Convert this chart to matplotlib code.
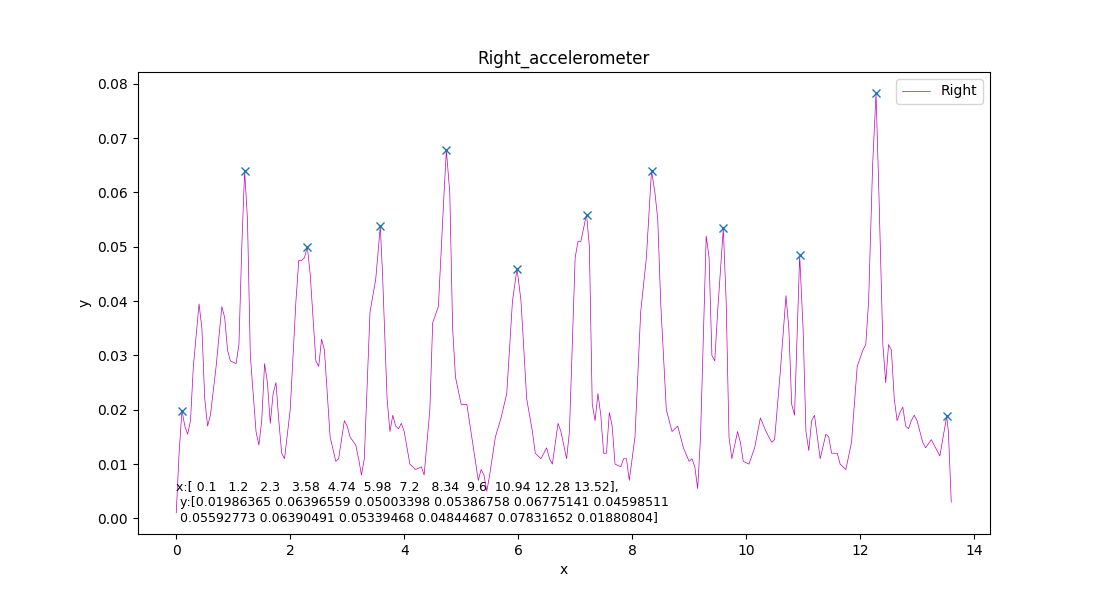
import matplotlib
matplotlib.use("Agg")
import matplotlib.pyplot as plt
import numpy as np

curve_x = [0.0,0.05,0.1,0.15,0.2,0.25,0.3,0.4,0.45,0.5,0.55,0.6,0.7,0.8,0.85,0.9,0.95,1.05,1.1,1.15,1.2,1.25,1.3,1.4,1.45,1.5,1.55,1.6,1.65,1.7,1.75,1.8,1.85,1.9,2.0,2.1,2.15,2.2,2.25,2.3,2.35,2.45,2.5,2.55,2.6,2.7,2.8,2.85,2.95,3.0,3.05,3.15,3.2,3.25,3.3,3.4,3.5,3.55,3.58,3.62,3.7,3.75,3.8,3.85,3.9,3.95,4.0,4.1,4.2,4.3,4.35,4.45,4.5,4.6,4.7,4.74,4.8,4.85,4.9,5.0,5.1,5.2,5.3,5.35,5.4,5.45,5.5,5.6,5.7,5.8,5.9,5.98,6.05,6.15,6.25,6.3,6.4,6.5,6.55,6.6,6.7,6.75,6.85,6.9,7.0,7.05,7.1,7.2,7.25,7.3,7.35,7.4,7.45,7.5,7.55,7.6,7.65,7.7,7.8,7.85,7.9,7.95,8.05,8.15,8.25,8.34,8.4,8.45,8.5,8.6,8.7,8.8,8.9,9.0,9.05,9.1,9.15,9.2,9.3,9.35,9.4,9.45,9.5,9.6,9.65,9.7,9.75,9.85,9.9,9.95,10.05,10.15,10.25,10.35,10.45,10.5,10.6,10.7,10.75,10.8,10.85,10.94,11.0,11.05,11.1,11.15,11.2,11.25,11.3,11.4,11.45,11.5,11.6,11.65,11.75,11.85,11.95,12.05,12.1,12.15,12.22,12.28,12.33,12.4,12.45,12.5,12.55,12.6,12.65,12.7,12.75,12.8,12.85,12.9,12.95,13.0,13.05,13.1,13.15,13.25,13.3,13.4,13.45,13.52,13.55,13.6]
curve_y = [0.001,0.012,0.0199,0.017,0.0155,0.018,0.028,0.0395,0.035,0.022,0.017,0.019,0.028,0.039,0.037,0.031,0.029,0.0285,0.032,0.05,0.064,0.055,0.03,0.016,0.0135,0.018,0.0285,0.025,0.0175,0.023,0.025,0.018,0.012,0.011,0.02,0.04,0.0475,0.0475,0.048,0.050,0.045,0.029,0.028,0.033,0.031,0.015,0.0105,0.011,0.018,0.017,0.015,0.0135,0.011,0.008,0.011,0.038,0.044,0.05,0.0539,0.045,0.022,0.016,0.019,0.017,0.0165,0.0175,0.016,0.01,0.009,0.0095,0.008,0.02,0.036,0.039,0.06,0.0678,0.06,0.035,0.026,0.021,0.021,0.014,0.007,0.009,0.008,0.005,0.008,0.015,0.0185,0.023,0.04,0.046,0.04,0.022,0.016,0.012,0.011,0.013,0.011,0.01,0.0175,0.016,0.011,0.016,0.048,0.051,0.051,0.056,0.05,0.021,0.018,0.023,0.019,0.012,0.012,0.0195,0.017,0.01,0.0095,0.011,0.011,0.007,0.015,0.038,0.048,0.064,0.06,0.055,0.04,0.02,0.016,0.017,0.013,0.0105,0.011,0.0095,0.0055,0.015,0.052,0.048,0.03,0.029,0.038,0.0534,0.04,0.015,0.011,0.016,0.014,0.0105,0.01,0.013,0.0185,0.016,0.014,0.0145,0.027,0.041,0.035,0.021,0.019,0.0484,0.035,0.016,0.0125,0.018,0.019,0.015,0.011,0.0155,0.015,0.012,0.012,0.01,0.009,0.014,0.028,0.031,0.032,0.04,0.065,0.0783,0.06,0.032,0.025,0.032,0.031,0.022,0.018,0.0195,0.0205,0.017,0.0165,0.018,0.019,0.018,0.016,0.014,0.013,0.0145,0.0135,0.0115,0.0145,0.0188,0.016,0.003]

peak_x = [0.1, 1.2, 2.3, 3.58, 4.74, 5.98, 7.2, 8.34, 9.6, 10.94, 12.28, 13.52]
peak_y = [0.01986365, 0.06396559, 0.05003398, 0.05386758, 0.06775141, 0.04598511,
          0.05592773, 0.06390491, 0.05339468, 0.04844687, 0.07831652, 0.01880804]

fig, ax = plt.subplots(figsize=(11, 6), dpi=100)
ax.plot(curve_x, curve_y, color="m", linewidth=0.5, label="Right")
ax.plot(peak_x, peak_y, "x", color="#1f77b4")
ax.set_title("Right_accelerometer")
ax.set_xlabel("x")
ax.set_ylabel("y")
ax.legend(loc="upper right")
txt = ("x:[ 0.1   1.2   2.3   3.58  4.74  5.98  7.2   8.34  9.6  10.94 12.28 13.52],\n"
       " y:[0.01986365 0.06396559 0.05003398 0.05386758 0.06775141 0.04598511\n"
       " 0.05592773 0.06390491 0.05339468 0.04844687 0.07831652 0.01880804]")
ax.text(0, 0.0068, txt, fontsize=9, va="top", ha="left")
fig.savefig("out.png")
